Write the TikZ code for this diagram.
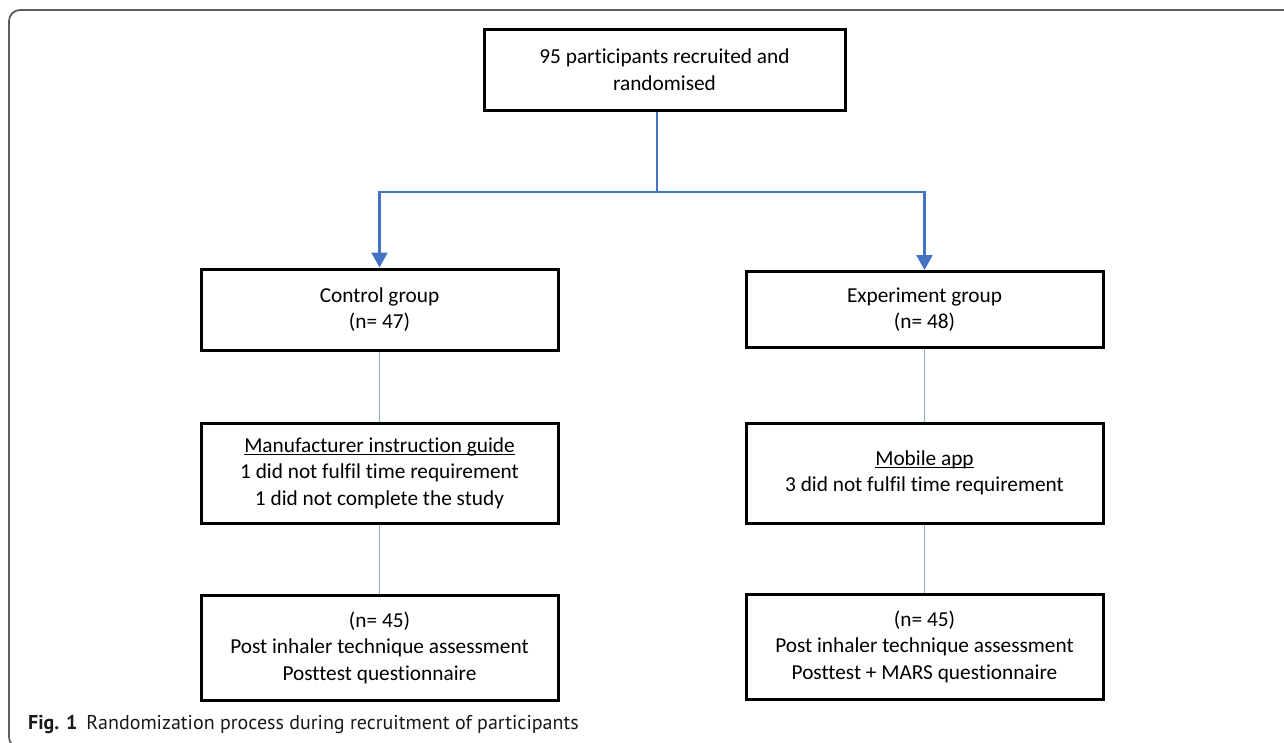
\documentclass[tikz,border=0pt]{standalone}
\usepackage{fontspec}
\setmainfont{Carlito}[Ligatures=NoCommon]
\newfontfamily\capfont{PT Sans}
\usetikzlibrary{arrows.meta}
\definecolor{arrowblue}{HTML}{4472C4}
\definecolor{linkblue}{HTML}{8EA9DB}
\definecolor{framegray}{HTML}{5E5E5E}
\newsavebox\ulsave
\newcommand\ulbox[1]{\sbox\ulsave{#1}\rlap{\rule[-2.8pt]{\wd\ulsave}{1.3pt}}\usebox\ulsave}

\begin{document}
\begin{tikzpicture}[x=1pt,y=-1pt]
    \useasboundingbox (0,0) rectangle (1284,742);
    % frame round the figure
    \draw[framegray, line width=1.8pt, rounded corners=11pt] (1290,10) -- (9,10) -- (9,748) -- (40,748);
    \begin{scope}
        \tikzstyle{every node}=[fill=white, draw=black, line width=3pt, align=center, inner sep=0pt, minimum width=357pt, font=\fontsize{21.3}{26.5}\selectfont]
        \node[minimum width=361pt, minimum height=81pt] (rand) at (664.5,69.5) {95 participants recruited and\\randomised};
        \node[minimum height=81pt] (ctrl) at (379.5,309.5) {Control group\\(n= 47)};
        \node[minimum height=76pt] (exp) at (924.5,309.5) {Experiment group\\(n= 48)};
        \node[minimum height=100pt] (guide) at (379.5,473) {\ulbox{Manufacturer instruction guide}\\1 did not fulfil time requirement\\1 did not complete the study};
        \node[minimum height=100pt] (app) at (924.5,473) {\ulbox{Mobile app}\\3 did not fulfil time requirement};
        \node[minimum height=105pt] (postc) at (379.5,647.5) {(n= 45)\\Post inhaler technique assessment\\Posttest questionnaire};
        \node[minimum height=105pt] (poste) at (924.5,646.5) {(n= 45)\\Post inhaler technique assessment\\Posttest + MARS questionnaire};
    \end{scope}
    \coordinate (split) at (657,192);
    \begin{scope}[arrowblue, line width=2.5pt, -{Triangle[length=15pt,width=16pt]}]
        \draw (rand.south -| split) -- (split) -| (ctrl.north);
        \draw (split) -| (exp.north);
    \end{scope}
    \begin{scope}
        \tikzstyle{every edge}=[draw, linkblue, line width=1.4pt]
        \path
        (ctrl) edge (guide)
        (guide) edge (postc)
        (exp) edge (app)
        (app) edge (poste)
        ;
    \end{scope}
    \node[anchor=base west, inner sep=0pt, text=black!90, font=\capfont\fontsize{20}{22}\selectfont] (cap) at (28,729) {\textbf{Fig. 1}\hspace{9pt}Randomization process during recruitment of participants};
\end{tikzpicture}
\end{document}
